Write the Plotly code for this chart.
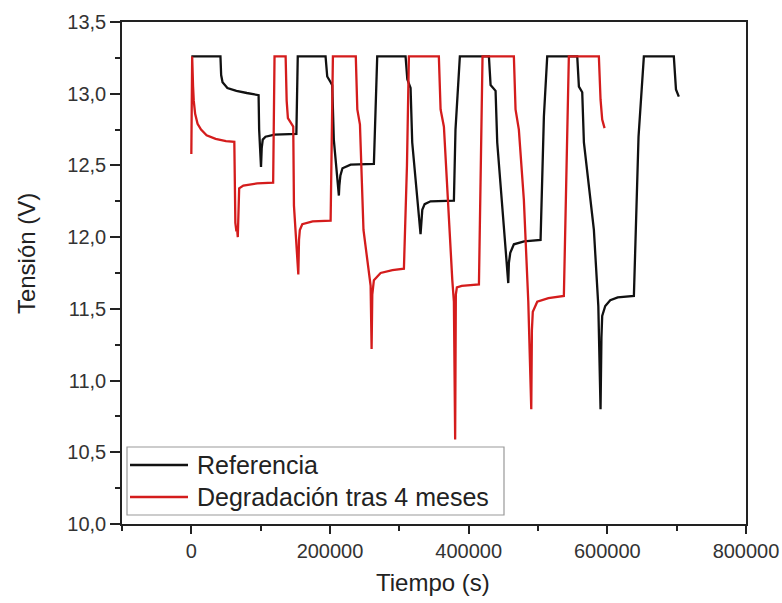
import plotly.graph_objects as go

# ---- data ----
ref_t = [0, 42000, 43000, 45000, 52000, 65000, 80000, 97000, 97800, 98800, 100500, 101500,
         103000, 107000, 120000, 151500, 153500, 193600, 196000, 200900, 203200, 205500,
         212800, 213500, 215000, 218000, 229700, 263300, 265500, 268100, 309000, 311500,
         316200, 318600, 330600, 331600, 333100, 336500, 345000, 378700, 381000, 387300,
         429200, 431600, 438800, 441200, 457100, 458000, 460000, 465200, 480000, 503700,
         508500, 513300, 556600, 559000, 563800, 566200, 580600, 587000, 590200, 591500,
         592600, 597000, 604200, 615000, 638300, 645000, 652700, 695900, 697400, 699000,
         703100]
ref_v = [13.26, 13.26, 13.13, 13.08, 13.04, 13.02, 13.005, 12.99, 12.75, 12.63, 12.49, 12.62,
         12.68, 12.70, 12.715, 12.72, 13.26, 13.26, 13.12, 13.08, 13.06, 12.68,
         12.29, 12.36, 12.43, 12.48, 12.505, 12.51, 12.90, 13.26, 13.26, 13.10,
         13.04, 12.66, 12.02, 12.12, 12.19, 12.23, 12.25, 12.255, 12.75, 13.26,
         13.26, 13.06, 13.02, 12.66, 11.68, 11.82, 11.89, 11.95, 11.97, 11.98,
         12.84, 13.26, 13.26, 13.05, 13.01, 12.66, 12.05, 11.52, 10.80, 11.30,
         11.45, 11.52, 11.56, 11.58, 11.59, 12.70, 13.26, 13.26, 13.10, 13.03,
         12.98]

deg_t = [0, 1200, 2500, 3500, 5500, 9000, 14000, 22000, 35000, 50000, 62000, 62800, 63500,
         65000, 66000, 67000, 67800, 69000, 75000, 95000, 118000, 120000, 136000, 137500,
         139300, 143000, 147000, 148000, 154300, 155300, 156500, 160000, 175000, 200900,
         204200, 237200, 239400, 243200, 246600, 248300, 258600, 260000, 261000, 263300,
         273000, 290000, 306600, 311000, 313800, 357000, 359500, 364300, 376400, 378700,
         380500, 381500, 383000, 390000, 414800, 417200, 420000, 465200, 467600, 472400,
         479600, 486000, 490300, 491200, 492500, 498900, 515000, 537300, 541000, 544500,
         587800, 590200, 592600, 596000]
deg_v = [12.58, 13.26, 13.05, 12.95, 12.86, 12.79, 12.75, 12.71, 12.685, 12.67, 12.665, 12.30, 12.10,
         12.04, 12.06, 12.00, 12.28, 12.34, 12.36, 12.375, 12.38, 13.26, 13.26, 12.95,
         12.83, 12.80, 12.77, 12.22, 11.74, 11.98, 12.05, 12.09, 12.11, 12.115,
         13.26, 13.26, 12.89, 12.785, 12.22, 12.05, 11.66, 11.22, 11.60, 11.70,
         11.75, 11.77, 11.78, 12.50, 13.26, 13.26, 12.89, 12.77, 11.70, 11.55,
         10.59, 11.60, 11.65, 11.66, 11.67, 12.50, 13.26, 13.26, 12.89, 12.75,
         12.26, 11.55, 10.80, 11.35, 11.48, 11.55, 11.575, 11.59, 12.50, 13.26,
         13.26, 12.96, 12.82, 12.76]

series_names = ["Referencia", "Degradación tras 4 meses"]
series_colors = ["#111111", "#d41c1c"]

x_tickvals = [0, 200000, 400000, 600000, 800000]
x_ticktext = ["0", "200000", "400000", "600000", "800000"]
y_tickvals = [10.0, 10.5, 11.0, 11.5, 12.0, 12.5, 13.0, 13.5]
y_ticktext = ["10,0", "10,5", "11,0", "11,5", "12,0", "12,5", "13,0", "13,5"]

FONT = "Liberation Sans, Arial, sans-serif"

fig = go.Figure()
fig.add_trace(go.Scatter(x=ref_t, y=ref_v, mode="lines", name=series_names[0],
                         line=dict(color=series_colors[0], width=2.3), showlegend=False))
fig.add_trace(go.Scatter(x=deg_t, y=deg_v, mode="lines", name=series_names[1],
                         line=dict(color=series_colors[1], width=2.3), showlegend=False))

fig.update_layout(
    width=782, height=603,
    margin=dict(l=122, r=36, t=22, b=79, autoexpand=False),
    paper_bgcolor="white", plot_bgcolor="white",
    font=dict(family=FONT, color="#222"),
)
fig.update_xaxes(
    automargin=False,
    range=[-100000, 800000], tickvals=x_tickvals, ticktext=x_ticktext,
    ticks="outside", ticklen=8, tickwidth=1.5, tickcolor="#222",
    minor=dict(dtick=100000, tick0=0, ticks="outside", ticklen=5, tickwidth=1.5, tickcolor="#222"),
    showline=True, linecolor="#222", linewidth=1.5, mirror=True,
    showgrid=False, zeroline=False,
    tickfont=dict(size=20, color="#333", family=FONT),
)
fig.update_yaxes(
    automargin=False,
    range=[10.0, 13.5], tickvals=y_tickvals, ticktext=y_ticktext,
    ticks="outside", ticklen=10, tickwidth=1.5, tickcolor="#222",
    minor=dict(dtick=0.25, tick0=10, ticks="outside", ticklen=5, tickwidth=1.5, tickcolor="#222"),
    showline=True, linecolor="#222", linewidth=1.5, mirror=True,
    showgrid=False, zeroline=False,
    tickfont=dict(size=20, color="#333", family=FONT),
)

# axis titles
fig.add_annotation(text="Tiempo (s)", xref="paper", yref="paper", x=0.498, y=-0.1175,
                   xanchor="center", yanchor="middle", showarrow=False,
                   font=dict(size=24, color="#222", family=FONT))
fig.add_annotation(text="Tensión (V)", xref="paper", yref="paper", x=-0.152, y=0.538,
                   xanchor="center", yanchor="middle", textangle=-90, showarrow=False,
                   font=dict(size=24, color="#222", family=FONT))

# legend box (drawn manually to match the reference layout)
def px_x(p):
    return (p - 122) / 624.0

def px_y(p):
    return (524 - p) / 502.0

fig.add_shape(type="rect", xref="paper", yref="paper",
              x0=px_x(127), x1=px_x(504), y0=px_y(515), y1=px_y(447),
              line=dict(color="#999", width=1.2), fillcolor="white", layer="above")
for i, (nm, col) in enumerate(zip(series_names, series_colors)):
    yy = px_y(465 + 32 * i)
    fig.add_shape(type="line", xref="paper", yref="paper",
                  x0=px_x(130), x1=px_x(188), y0=yy, y1=yy,
                  line=dict(color=col, width=2.5), layer="above")
    fig.add_annotation(text=nm, xref="paper", yref="paper", x=px_x(195), y=yy,
                       xanchor="left", yanchor="middle", showarrow=False,
                       font=dict(size=25, color="#222", family=FONT))

fig.write_html("out.html")
